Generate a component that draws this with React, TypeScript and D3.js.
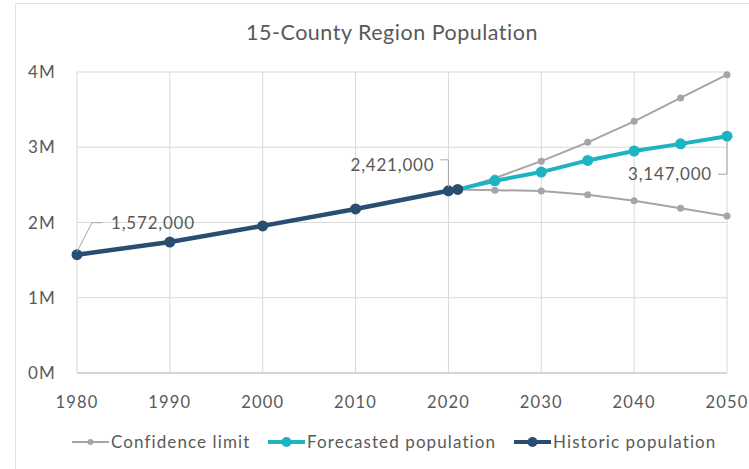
import React from "react";
import * as d3 from "d3";

const title = "15-County Region Population";
const xTicks = [1980, 1990, 2000, 2010, 2020, 2030, 2040, 2050];
const yTicks = [0, 1000000, 2000000, 3000000, 4000000];
const yTickLabels = ["0M", "1M", "2M", "3M", "4M"];

const historicYears = [1980, 1990, 2000, 2010, 2020, 2021];
const historicValues = [1572000, 1740000, 1955000, 2180000, 2421000, 2440000];

const forecastYears = [2021, 2025, 2030, 2035, 2040, 2045, 2050];
const forecastValues = [2440000, 2555000, 2670000, 2825000, 2950000, 3045000, 3147000];
const upperValues = [2440000, 2590000, 2815000, 3065000, 3345000, 3655000, 3965000];
const lowerValues = [2440000, 2430000, 2420000, 2370000, 2290000, 2190000, 2085000];

const legendItems = ["Confidence limit", "Forecasted population", "Historic population"];

const W = 749;
const H = 469;
const FONT = "Lato, 'Open Sans', sans-serif";
const GRAY = "#A5A5A5";
const TEAL = "#1DB3C2";
const NAVY = "#284E72";
const TEXT = "#595959";

export default function App() {
  const x = d3.scaleLinear().domain([1980, 2050]).range([77, 727]);
  const y = d3.scaleLinear().domain([0, 4000000]).range([373, 72]);
  const line = d3
    .line<[number, number]>()
    .x((d) => x(d[0]))
    .y((d) => y(d[1]));

  const hist: [number, number][] = historicYears.map((yr, i) => [yr, historicValues[i]]);
  const fc: [number, number][] = forecastYears.map((yr, i) => [yr, forecastValues[i]]);
  const up: [number, number][] = forecastYears.map((yr, i) => [yr, upperValues[i]]);
  const lo: [number, number][] = forecastYears.map((yr, i) => [yr, lowerValues[i]]);
  const fmt = d3.format(",");

  const p1980: [number, number] = [x(historicYears[0]), y(historicValues[0])];
  const p2020: [number, number] = [x(historicYears[4]), y(historicValues[4])];
  const last = forecastValues.length - 1;
  const p2050: [number, number] = [x(forecastYears[last]), y(forecastValues[last])];

  const legendX = [72, 268, 514];
  const legendColors = [GRAY, TEAL, NAVY];
  const legendR = [3, 5, 5];
  const legendW = [2, 4, 4];

  return (
    <svg
      width={W}
      height={H}
      style={{ position: "absolute", left: 0, top: 0, background: "#fff" }}
      fontFamily={FONT}
    >
      <rect x={15.5} y={3.5} width={W + 10} height={H - 1} fill="#fff" stroke="#E3E3E3" strokeWidth={1} />
      <text x={392} y={40} textAnchor="middle" fontSize={21.5} fill={TEXT} letterSpacing={0.5}>
        {title}
      </text>

      {/* gridlines */}
      {yTicks.map((t) => (
        <line key={"gy" + t} x1={x(1980)} x2={x(2050)} y1={y(t)} y2={y(t)} stroke="#D9D9D9" strokeWidth={1} />
      ))}
      {xTicks.map((t) => (
        <line key={"gx" + t} x1={x(t)} x2={x(t)} y1={y(4000000)} y2={y(0)} stroke="#D9D9D9" strokeWidth={1} />
      ))}
      <line x1={x(1980)} x2={x(2050)} y1={y(0)} y2={y(0)} stroke="#BFBFBF" strokeWidth={1} />

      {/* axis labels */}
      {yTicks.map((t, i) => (
        <text key={"ly" + t} x={56} y={y(t) + 6} textAnchor="end" fontSize={17} fill={TEXT} letterSpacing={1.2}>
          {yTickLabels[i]}
        </text>
      ))}
      {xTicks.map((t) => (
        <text key={"lx" + t} x={x(t)} y={408} textAnchor="middle" fontSize={16.5} fill={TEXT} letterSpacing={1.2}>
          {t}
        </text>
      ))}

      {/* confidence limits */}
      {[up, lo].map((s, k) => (
        <g key={"c" + k}>
          <path d={line(s) || ""} fill="none" stroke={GRAY} strokeWidth={2} />
          {s.slice(1).map((d) => (
            <circle key={d[0]} cx={x(d[0])} cy={y(d[1])} r={3.5} fill={GRAY} />
          ))}
        </g>
      ))}

      {/* forecast */}
      <path d={line(fc) || ""} fill="none" stroke={TEAL} strokeWidth={4} />
      {fc.slice(1).map((d) => (
        <circle key={"f" + d[0]} cx={x(d[0])} cy={y(d[1])} r={5.5} fill={TEAL} />
      ))}

      {/* historic */}
      <path d={line(hist) || ""} fill="none" stroke={NAVY} strokeWidth={4.5} />
      {hist.map((d) => (
        <circle key={"h" + d[0]} cx={x(d[0])} cy={y(d[1])} r={5.5} fill={NAVY} />
      ))}

      {/* data labels */}
      <polyline
        points={`${p1980[0]},${p1980[1] - 3} ${p1980[0] + 15},${p1980[1] - 32} ${p1980[0] + 25},${p1980[1] - 32}`}
        fill="none"
        stroke="#A6A6A6"
        strokeWidth={1}
      />
      <text x={p1980[0] + 34} y={p1980[1] - 26} fontSize={17} fill={TEXT} letterSpacing={0.8}>
        {fmt(historicValues[0])}
      </text>

      <polyline
        points={`${p2020[0] - 8},${p2020[1] - 31} ${p2020[0]},${p2020[1] - 31} ${p2020[0]},${p2020[1] - 4}`}
        fill="none"
        stroke="#A6A6A6"
        strokeWidth={1}
      />
      <text x={p2020[0] - 14} y={p2020[1] - 20} textAnchor="end" fontSize={17} fill={TEXT} letterSpacing={0.8}>
        {fmt(historicValues[4])}
      </text>

      <polyline
        points={`${p2050[0] - 9},${p2050[1] + 38} ${p2050[0]},${p2050[1] + 38} ${p2050[0]},${p2050[1] + 5}`}
        fill="none"
        stroke="#A6A6A6"
        strokeWidth={1}
      />
      <text x={p2050[0] - 15} y={p2050[1] + 44} textAnchor="end" fontSize={17} fill={TEXT} letterSpacing={0.8}>
        {fmt(forecastValues[last])}
      </text>

      {/* legend */}
      {legendItems.map((label, i) => (
        <g key={label}>
          <line x1={legendX[i]} x2={legendX[i] + 37} y1={442} y2={442} stroke={legendColors[i]} strokeWidth={legendW[i]} />
          <circle cx={legendX[i] + 18.5} cy={442} r={legendR[i]} fill={legendColors[i]} />
          <text x={legendX[i] + 39} y={448} fontSize={17} fill={TEXT} letterSpacing={1.1}>
            {label}
          </text>
        </g>
      ))}
    </svg>
  );
}
